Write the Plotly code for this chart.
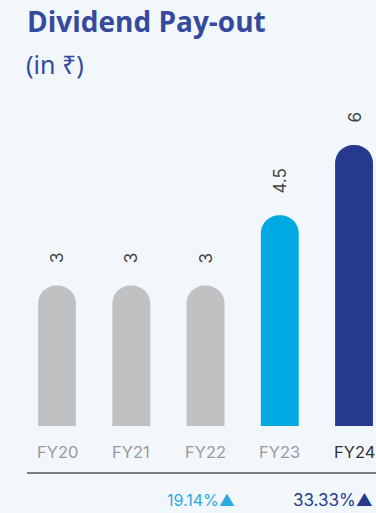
import plotly.graph_objects as go

categories = ["FY20", "FY21", "FY22", "FY23", "FY24"]
dividend = [3, 3, 3, 4.5, 6]
bar_colors = ["#C0C1C3", "#C0C1C3", "#C0C1C3", "#00A9E2", "#253A8E"]
tick_colors = ["#9A9A9A", "#9A9A9A", "#9A9A9A", "#9A9A9A", "#333333"]
growth_labels = ["19.14%▲", "33.33%▲"]
growth_colors = ["#29ABE2", "#263B8F"]

W, H = 376, 513
T, B = 100, 87
plot_h = H - T - B


def py(p):
    # pixel y (from top) -> paper y
    return (H - B - p) / plot_h


def px(p):
    return p / W


BG = "#F2F7FC"
fig = go.Figure()
fig.add_trace(go.Bar(
    x=categories, y=dividend, width=0.51,
    marker=dict(color=bar_colors, cornerradius=18, line=dict(width=0)),
    hoverinfo="skip",
))

ann = []
# value labels
for c, v in zip(categories, dividend):
    ann.append(dict(x=c, y=v, xref="x", yref="y", text=str(v), textangle=-90,
                    showarrow=False, yanchor="bottom", yshift=20,
                    font=dict(family="Inter", size=17, color="#444444")))
# category labels
for c, col in zip(categories, tick_colors):
    ann.append(dict(x=c, y=0, xref="x", yref="y", text=c, showarrow=False,
                    yanchor="middle", yshift=-26,
                    font=dict(family="Inter", size=16.5, color=col)))
# title
ann.append(dict(x=px(25), y=py(21), xref="paper", yref="paper", xanchor="left", yanchor="middle",
                text="<b>Dividend Pay-out</b>", showarrow=False,
                font=dict(family="Open Sans", size=28, color="#354A9C")))
ann.append(dict(x=px(24), y=py(64), xref="paper", yref="paper", xanchor="left", yanchor="middle",
                text="(in ₹)", showarrow=False,
                font=dict(family="Noto Sans", size=25, color="#354A9C")))
# growth labels
for txt, col, cx, fs in zip(growth_labels, growth_colors, [201, 333], [16, 17]):
    ann.append(dict(x=px(cx), y=py(500), xref="paper", yref="paper", xanchor="center", yanchor="middle",
                    text=txt, showarrow=False,
                    font=dict(family="Inter", size=fs, color=col)))

fig.add_shape(type="line", xref="paper", yref="paper", x0=px(27), x1=1.0, y0=py(473), y1=py(473),
              line=dict(color="#555555", width=1.5))

fig.update_layout(
    width=W, height=H,
    margin=dict(l=0, r=0, t=T, b=B),
    paper_bgcolor=BG, plot_bgcolor=BG,
    showlegend=False,
    xaxis=dict(range=[-0.768, 4.296], showticklabels=False, showgrid=False, zeroline=False,
               showline=False, fixedrange=True),
    yaxis=dict(range=[0, plot_h / 46.83], visible=False, showgrid=False, fixedrange=True),
    annotations=ann,
)
fig.write_html(
    "out.html",
    config={"displayModeBar": False},
    post_script="document.body.style.margin='0';document.body.style.overflow='hidden';"
                "document.body.style.background='" + BG + "';",
)
